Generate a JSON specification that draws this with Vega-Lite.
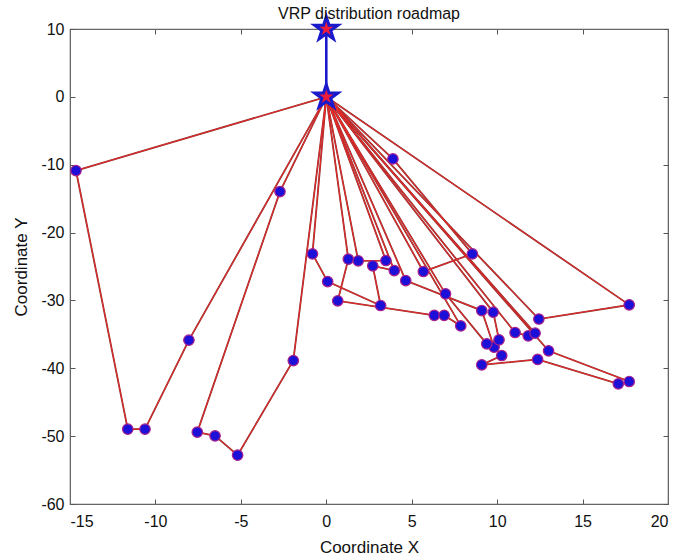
{
  "$schema": "https://vega.github.io/schema/vega-lite/v6.json",
  "autosize": {"type": "none"},
  "width": 598,
  "height": 475,
  "padding": {"left": 70, "top": 29, "right": 17, "bottom": 55},
  "background": "white",
  "config": {
    "view": {"stroke": "#666666", "strokeWidth": 1.2},
    "font": "Liberation Sans"
  },
  "title": {"text": "VRP distribution roadmap", "fontSize": 16, "fontWeight": "normal", "color": "#111111", "font": "Liberation Sans", "offset": -11},
  "datasets": {
    "routes": [
      {"r": 1, "s": 0, "x": 0, "y": 0}, {"r": 1, "s": 1, "x": -14.65, "y": -10.86}, {"r": 1, "s": 2, "x": -11.62, "y": -48.97}, {"r": 1, "s": 3, "x": -10.61, "y": -48.97}, {"r": 1, "s": 4, "x": -8.04, "y": -35.85}, {"r": 1, "s": 5, "x": 0, "y": 0},
      {"r": 2, "s": 0, "x": 0, "y": 0}, {"r": 2, "s": 1, "x": -2.71, "y": -13.96}, {"r": 2, "s": 2, "x": -7.55, "y": -49.41}, {"r": 2, "s": 3, "x": -6.51, "y": -49.96}, {"r": 2, "s": 4, "x": -5.19, "y": -52.8}, {"r": 2, "s": 5, "x": -1.93, "y": -38.86}, {"r": 2, "s": 6, "x": 0, "y": 0},
      {"r": 3, "s": 0, "x": 0, "y": 0}, {"r": 3, "s": 1, "x": -0.81, "y": -23.14}, {"r": 3, "s": 2, "x": 0.08, "y": -27.22}, {"r": 3, "s": 3, "x": 3.18, "y": -30.75}, {"r": 3, "s": 4, "x": 2.72, "y": -24.9}, {"r": 3, "s": 5, "x": 3.98, "y": -25.6}, {"r": 3, "s": 6, "x": 0, "y": 0},
      {"r": 4, "s": 0, "x": 0, "y": 0}, {"r": 4, "s": 1, "x": 1.29, "y": -23.92}, {"r": 4, "s": 2, "x": 0.67, "y": -30.06}, {"r": 4, "s": 3, "x": 6.32, "y": -32.2}, {"r": 4, "s": 4, "x": 6.9, "y": -32.2}, {"r": 4, "s": 5, "x": 7.87, "y": -33.75}, {"r": 4, "s": 6, "x": 0, "y": 0},
      {"r": 5, "s": 0, "x": 0, "y": 0}, {"r": 5, "s": 1, "x": 1.87, "y": -24.17}, {"r": 5, "s": 2, "x": 3.49, "y": -24.12}, {"r": 5, "s": 3, "x": 0, "y": 0},
      {"r": 6, "s": 0, "x": 0, "y": 0}, {"r": 6, "s": 1, "x": 3.9, "y": -9.14}, {"r": 6, "s": 2, "x": 8.55, "y": -23.14}, {"r": 6, "s": 3, "x": 5.68, "y": -25.74}, {"r": 6, "s": 4, "x": 0, "y": 0},
      {"r": 7, "s": 0, "x": 0, "y": 0}, {"r": 7, "s": 1, "x": 4.65, "y": -27.07}, {"r": 7, "s": 2, "x": 9.1, "y": -31.49}, {"r": 7, "s": 3, "x": 9.82, "y": -36.89}, {"r": 7, "s": 4, "x": 10.27, "y": -38.12}, {"r": 7, "s": 5, "x": 9.1, "y": -39.49}, {"r": 7, "s": 6, "x": 12.37, "y": -38.7}, {"r": 7, "s": 7, "x": 17.09, "y": -42.29}, {"r": 7, "s": 8, "x": 17.73, "y": -41.95}, {"r": 7, "s": 9, "x": 13.01, "y": -37.43}, {"r": 7, "s": 10, "x": 0, "y": 0},
      {"r": 8, "s": 0, "x": 0, "y": 0}, {"r": 8, "s": 1, "x": 6.98, "y": -29.03}, {"r": 8, "s": 2, "x": 9.39, "y": -36.4}, {"r": 8, "s": 3, "x": 10.11, "y": -35.81}, {"r": 8, "s": 4, "x": 9.77, "y": -31.73}, {"r": 8, "s": 5, "x": 0, "y": 0},
      {"r": 9, "s": 0, "x": 0, "y": 0}, {"r": 9, "s": 1, "x": 12.44, "y": -32.74}, {"r": 9, "s": 2, "x": 17.73, "y": -30.65}, {"r": 9, "s": 3, "x": 0, "y": 0},
      {"r": 10, "s": 0, "x": 0, "y": 0}, {"r": 10, "s": 1, "x": 11.05, "y": -34.73}, {"r": 10, "s": 2, "x": 11.82, "y": -35.22}, {"r": 10, "s": 3, "x": 12.22, "y": -34.82}, {"r": 10, "s": 4, "x": 0, "y": 0}
    ],
    "link": [{"s": 0, "x": 0, "y": 0}, {"s": 1, "x": 0, "y": 10}],
    "depots": [{"x": 0, "y": 0}, {"x": 0, "y": 10}]
  },
  "resolve": {"axis": {"x": "independent", "y": "independent"}},
  "layer": [
    {
      "data": {"name": "routes"},
      "mark": {"type": "line", "color": "#8a2e2e", "strokeWidth": 1.8, "clip": true},
      "encoding": {
        "x": {"field": "x", "type": "quantitative", "scale": {"domain": [-15, 20], "nice": false, "zero": false},
          "axis": {"orient": "bottom", "title": "Coordinate X", "values": [-15, -10, -5, 0, 5, 10, 15, 20], "labelExpr": "'' + datum.value", "grid": false, "tickSize": -5, "tickColor": "#555555", "domainColor": "#666666", "labelPadding": 14, "labelFontSize": 16, "labelColor": "#111111", "titleFontSize": 17, "titleFontWeight": "normal", "titleColor": "#111111", "titlePadding": 10, "labelFont": "Liberation Sans", "titleFont": "Liberation Sans"}},
        "y": {"field": "y", "type": "quantitative", "scale": {"domain": [-60, 10], "nice": false, "zero": false},
          "axis": {"orient": "left", "title": "Coordinate Y", "values": [-60, -50, -40, -30, -20, -10, 0, 10], "labelExpr": "'' + datum.value", "grid": false, "tickSize": -5, "tickColor": "#555555", "domainColor": "#666666", "labelPadding": 11, "labelFontSize": 16, "labelColor": "#111111", "titleFontSize": 17, "titleFontWeight": "normal", "titleColor": "#111111", "titlePadding": 10, "labelFont": "Liberation Sans", "titleFont": "Liberation Sans"}},
        "order": {"field": "s", "type": "quantitative"},
        "detail": {"field": "r", "type": "nominal"}
      }
    },
    {
      "data": {"name": "routes"},
      "mark": {"type": "line", "color": "#ff2a2a", "strokeWidth": 0.8},
      "encoding": {
        "x": {"field": "x", "type": "quantitative", "axis": {"orient": "top", "labels": false, "title": null, "values": [-15, -10, -5, 0, 5, 10, 15, 20], "grid": false, "tickSize": -5, "tickColor": "#555555", "domainColor": "#666666"}},
        "y": {"field": "y", "type": "quantitative", "axis": {"orient": "right", "labels": false, "title": null, "values": [-60, -50, -40, -30, -20, -10, 0, 10], "grid": false, "tickSize": -5, "tickColor": "#555555", "domainColor": "#666666"}},
        "order": {"field": "s", "type": "quantitative"},
        "detail": {"field": "r", "type": "nominal"}
      }
    },
    {
      "data": {"name": "link"},
      "mark": {"type": "line", "color": "#1a1acc", "strokeWidth": 2.6},
      "encoding": {
        "x": {"field": "x", "type": "quantitative", "axis": null},
        "y": {"field": "y", "type": "quantitative", "axis": null},
        "order": {"field": "s", "type": "quantitative"}
      }
    },
    {
      "data": {"name": "routes"},
      "transform": [{"filter": "datum.x != 0 || datum.y != 0"}],
      "mark": {"type": "point", "shape": "circle", "filled": true, "fill": "#1c10d8", "stroke": "#a8208c", "strokeWidth": 1.2, "size": 110, "opacity": 1},
      "encoding": {
        "x": {"field": "x", "type": "quantitative", "axis": null},
        "y": {"field": "y", "type": "quantitative", "axis": null}
      }
    },
    {
      "data": {"name": "depots"},
      "mark": {"type": "point", "shape": "M0,-1L0.2245,-0.309L0.951,-0.309L0.363,0.118L0.588,0.809L0,0.382L-0.588,0.809L-0.363,0.118L-0.951,-0.309L-0.2245,-0.309Z", "filled": true, "fill": "#ee1c3a", "stroke": "#1a1acc", "strokeWidth": 3, "size": 600, "opacity": 1, "clip": false},
      "encoding": {
        "x": {"field": "x", "type": "quantitative", "axis": null},
        "y": {"field": "y", "type": "quantitative", "axis": null}
      }
    }
  ]
}
